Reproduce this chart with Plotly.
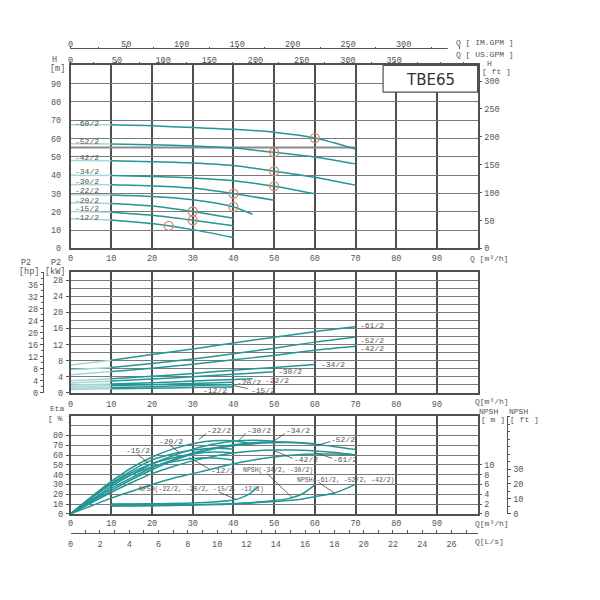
import plotly.graph_objects as go

# ---------------- data ----------------
Q_TICKS = [0, 10, 20, 30, 40, 50, 60, 70, 80, 90]

# Head curves  H [m] vs Q [m3/h]
H_NAMES = ["-60/2", "-52/2", "-42/2", "-34/2", "-30/2", "-22/2", "-20/2", "-15/2", "-12/2"]
H_Q = [
    [0, 10, 20, 30, 40, 50, 60, 70],
    [0, 10, 20, 30, 40, 50, 60, 70],
    [0, 10, 20, 30, 40, 50, 60, 70],
    [0, 10, 20, 30, 40, 50, 60],
    [0, 10, 20, 30, 40, 50],
    [0, 10, 20, 30, 40, 44.7],
    [0, 10, 20, 30, 40],
    [0, 10, 20, 30, 40],
    [0, 10, 20, 24.1, 30, 40],
]
H_M = [
    [67.6, 67.5, 67.0, 66.0, 65.1, 63.5, 60.3, 54.3],
    [57.2, 57.1, 56.7, 55.9, 54.8, 52.5, 50.0, 46.2],
    [48.0, 47.9, 47.4, 46.7, 45.3, 42.2, 38.9, 34.6],
    [40.0, 39.9, 39.3, 38.5, 37.0, 34.0, 29.9],
    [35.0, 34.8, 34.2, 33.0, 30.0, 26.3],
    [29.5, 29.2, 28.4, 26.6, 22.7, 18.7],
    [25.0, 24.6, 23.2, 20.2, 16.5],
    [20.2, 19.8, 18.1, 15.4, 12.4],
    [16.3, 15.6, 13.6, 12.4, 10.3, 6.0],
]
DUTY_Q = [60, 50, 50, 50, 40, 40, 30, 30, 24.1]
DUTY_H = [60.3, 52.5, 42.2, 34.0, 30.0, 22.7, 20.2, 15.4, 12.4]
REF_LINE_Q = [0, 70]
REF_LINE_H = [55.2, 55.2]

# Power curves  P2 [kW]
P_NAMES = ["-61/2", "-52/2", "-42/2", "-34/2", "-30/2", "-22/2", "-20/2", "-15/2", "-12/2"]
P_Q = [
    [0, 10, 20, 30, 40, 50, 60, 70],
    [0, 10, 20, 30, 40, 50, 60, 70],
    [0, 10, 20, 30, 40, 50, 60, 70],
    [0, 10, 20, 30, 40, 50, 60],
    [0, 10, 20, 30, 40, 50],
    [0, 10, 20, 30, 40, 44.7],
    [0, 10, 20, 30, 40],
    [0, 10, 20, 30, 40],
    [0, 10, 20, 30, 40],
]
P_KW = [
    [6.9, 8.1, 9.5, 10.9, 12.4, 13.8, 15.2, 16.4],
    [5.7, 6.3, 7.3, 8.4, 9.7, 11.1, 12.6, 13.9],
    [4.5, 5.3, 6.1, 7.1, 8.2, 9.3, 10.6, 11.6],
    [3.0, 3.5, 4.1, 4.8, 5.6, 6.3, 7.0],
    [2.4, 2.9, 3.4, 4.0, 4.6, 5.2],
    [1.9, 2.2, 2.5, 2.9, 3.3, 3.5],
    [1.5, 1.8, 2.0, 2.3, 2.6],
    [1.1, 1.3, 1.5, 1.8, 2.0],
    [0.8, 1.0, 1.1, 1.3, 1.4],
]

# Efficiency curves  Eta [%]
ETA_NAMES = ["-22/2", "-20/2", "-15/2", "-12/2", "-30/2", "-34/2", "-52/2", "-42/2", "-61/2"]
ETA_Q = [
    [0, 5, 10, 15, 20, 25, 30, 35, 40, 44.7],
    [0, 5, 10, 15, 20, 25, 30, 35, 40],
    [0, 5, 10, 15, 20, 25, 30, 35, 40],
    [0, 5, 10, 15, 20, 25, 30, 35, 40],
    [0, 5, 10, 15, 20, 25, 30, 35, 40, 45, 50],
    [0, 5, 10, 15, 20, 25, 30, 35, 40, 45, 50, 55, 60],
    [0, 5, 10, 15, 20, 25, 30, 35, 40, 45, 50, 55, 60, 65, 70],
    [0, 5, 10, 15, 20, 25, 30, 35, 40, 45, 50, 55, 60, 65, 70],
    [0, 5, 10, 15, 20, 25, 30, 35, 40, 45, 50, 55, 60, 65, 70],
]
ETA_PCT = [
    [0, 17, 33, 47, 58, 66, 71.5, 74.5, 74.5, 71],
    [0, 16, 31, 44, 55, 61, 65, 67, 66],
    [0, 16, 31, 42, 51, 57, 61, 63, 62],
    [0, 16, 30, 40, 48, 53, 56.5, 57, 55],
    [0, 14, 28, 40, 51, 59, 66, 71, 74, 75, 74],
    [0, 13, 26, 37, 47, 55, 62, 67, 70.5, 72.5, 73.5, 73, 71.5],
    [0, 12, 24, 35, 45, 54, 61, 66, 69.5, 71.5, 72.5, 72.5, 71, 68.5, 65.5],
    [0, 11, 22, 32, 41, 48, 54, 58.5, 62, 64, 65, 65, 64, 62.5, 60],
    [0, 8, 16, 23, 30, 36, 41, 46, 51, 55, 58, 60, 61, 61, 60],
]

# NPSH curves [m]
NPSH_NAMES = ["NPSH(-22/2, -20/2, -15/2, -12/2)", "NPSH(-34/2, -30/2)", "NPSH(-61/2, -52/2, -42/2)"]
NPSH_Q = [
    [10, 20, 30, 35, 40, 42, 44, 46],
    [10, 20, 30, 40, 50, 54, 57, 60],
    [10, 20, 30, 40, 50, 55, 60, 65, 70],
]
NPSH_M = [
    [2.0, 2.05, 2.2, 2.4, 2.8, 3.3, 4.1, 5.5],
    [1.65, 1.7, 1.85, 2.1, 2.7, 3.2, 4.1, 5.9],
    [1.6, 1.65, 1.8, 2.0, 2.5, 2.8, 3.5, 4.3, 6.0],
]

H_TICKS = [0, 10, 20, 30, 40, 50, 60, 70, 80, 90]
H_FT_TICKS = [0, 50, 100, 150, 200, 250, 300]
KW_TICKS = [0, 4, 8, 12, 16, 20, 24, 28]
HP_TICKS = [0, 4, 8, 12, 16, 20, 24, 28, 32, 36]
ETA_TICKS = [0, 10, 20, 30, 40, 50, 60, 70, 80]
NPSH_M_TICKS = [0, 2, 4, 6, 8, 10]
NPSH_FT_TICKS = [0, 10, 20, 30]
US_GPM_TICKS = [0, 50, 100, 150, 200, 250, 300, 350]
IM_GPM_TICKS = [0, 50, 100, 150, 200, 250, 300]
LS_TICKS = [0, 2, 4, 6, 8, 10, 12, 14, 16, 18, 20, 22, 24, 26]

M_TO_FT = 3.28084
KW_TO_HP = 1.34102
M3H_TO_USGPM = 4.40287
M3H_TO_IMGPM = 3.66615
M3H_TO_LS = 1 / 3.6
Q_MAX = 100

# ---------------- layout helpers ----------------
W = H = 600
def px(x):
    return x / W
def py(y):
    return 1 - y / H

X_DOM = [px(68), px(477)]
TOP_DOM = [py(251), py(66)]
MID_DOM = [py(396.7), py(275)]
BOT_DOM = [py(519), py(420)]

FONT = "Liberation Mono"
GRAY = "#555555"
TEAL = "#239696"
TEAL_PALE = "#a6d6d6"
TICKFONT = dict(family=FONT, size=8.5, color=GRAY)

fig = go.Figure()


def add_curve(q, v, xa, ya, fade):
    if fade:
        qa = [a for a in q if a <= 10]
        va = v[:len(qa)]
        fig.add_trace(go.Scatter(x=qa, y=va, xaxis=xa, yaxis=ya, mode="lines",
                                 line=dict(color=TEAL_PALE, width=1.5),
                                 showlegend=False, hoverinfo="skip"))
        qb = q[len(qa) - 1:]
        vb = v[len(qa) - 1:]
    else:
        qb, vb = q, v
    fig.add_trace(go.Scatter(x=qb, y=vb, xaxis=xa, yaxis=ya, mode="lines",
                             line=dict(color=TEAL, width=1.5, shape="spline", smoothing=0.8),
                             showlegend=False, hoverinfo="skip"))


for q, v in zip(H_Q, H_M):
    add_curve(q, v, "x", "y", True)
fig.add_trace(go.Scatter(x=DUTY_Q, y=DUTY_H, xaxis="x", yaxis="y", mode="markers",
                         marker=dict(symbol="circle-open", size=9, color="#d9836f",
                                     line=dict(width=1.3, color="#d9836f")),
                         showlegend=False, hoverinfo="skip"))

for q, v in zip(P_Q, P_KW):
    add_curve(q, v, "x2", "y3", True)

for q, v in zip(ETA_Q, ETA_PCT):
    add_curve(q, v, "x3", "y5", False)
for q, v in zip(NPSH_Q, NPSH_M):
    add_curve(q, v, "x3", "y6", False)

# dummy traces to activate secondary axes
for xa, ya in [("x", "y2"), ("x2", "y4"), ("x3", "y7"), ("x4", "y"), ("x5", "y"), ("x6", "y5")]:
    fig.add_trace(go.Scatter(x=[None], y=[None], xaxis=xa, yaxis=ya, showlegend=False,
                             hoverinfo="skip"))

grid_x = dict(range=[0, Q_MAX], tickvals=Q_TICKS, ticktext=[str(t) for t in Q_TICKS],
              domain=X_DOM, showgrid=True, gridcolor="#505050", gridwidth=1.5,
              showline=True, mirror=True, linecolor="#505050", linewidth=1.5,
              ticks="", tickfont=TICKFONT, zeroline=False, fixedrange=True)

fig.update_layout(
    width=W, height=H, margin=dict(l=0, r=0, t=0, b=0),
    paper_bgcolor="white", plot_bgcolor="rgba(0,0,0,0)", showlegend=False,
    xaxis=dict(grid_x, anchor="y", ticklabelstandoff=1),
    xaxis2=dict(grid_x, anchor="y3", ticklabelstandoff=2),
    xaxis3=dict(grid_x, anchor="y5"),
    yaxis=dict(domain=TOP_DOM, anchor="x", range=[0, 100], tickvals=H_TICKS,
               showgrid=True, gridcolor="#7a7a7a", gridwidth=1, zeroline=False,
               showline=True, mirror=True, linecolor="#505050", linewidth=1.5,
               ticks="", ticklabelstandoff=6, tickfont=TICKFONT),
    yaxis2=dict(overlaying="y", side="right", anchor="x",
                range=[0, 100 * M_TO_FT], tickvals=H_FT_TICKS, showgrid=False,
                zeroline=False, ticks="outside", ticklen=3, tickcolor=GRAY,
                tickfont=TICKFONT, ticklabelstandoff=1),
    yaxis3=dict(domain=MID_DOM, anchor="x2", range=[0, 30], tickvals=KW_TICKS,
                showgrid=True, gridcolor="#7a7a7a", gridwidth=1, zeroline=False,
                minor=dict(dtick=2, tick0=0, showgrid=True, gridcolor="#7a7a7a", gridwidth=1),
                showline=True, mirror=True, linecolor="#505050", linewidth=1.5,
                ticks="outside", ticklen=3, tickcolor=GRAY, ticklabelstandoff=1,
                tickfont=TICKFONT),
    yaxis4=dict(overlaying="y3", side="left", anchor="free", position=px(40),
                range=[0, 30 * KW_TO_HP], tickvals=HP_TICKS, showgrid=False,
                zeroline=False, showline=True, linecolor=GRAY, linewidth=1,
                ticks="outside", ticklen=3, tickcolor=GRAY,
                minor=dict(dtick=2, tick0=0, ticks="outside", ticklen=2, tickcolor=GRAY),
                tickfont=TICKFONT, ticklabelstandoff=0),
    yaxis5=dict(domain=BOT_DOM, anchor="x3", range=[0, 100], tickvals=ETA_TICKS,
                showgrid=True, gridcolor="#7a7a7a", gridwidth=1, zeroline=False,
                minor=dict(dtick=10, tick0=0, showgrid=True, gridcolor="#7a7a7a", gridwidth=1),
                showline=True, mirror=True, linecolor="#505050", linewidth=1.5,
                ticks="outside", ticklen=3, tickcolor=GRAY, ticklabelstandoff=1,
                tickfont=TICKFONT),
    yaxis6=dict(overlaying="y5", side="right", anchor="x3", range=[0, 20],
                tickvals=NPSH_M_TICKS, showgrid=False, zeroline=False,
                ticks="outside", ticklen=3, tickcolor=GRAY, tickfont=TICKFONT,
                ticklabelstandoff=1),
    yaxis7=dict(overlaying="y5", side="right", anchor="free", position=px(507),
                range=[0, 20 * M_TO_FT], tickvals=NPSH_FT_TICKS, showgrid=False,
                zeroline=False, showline=True, linecolor=GRAY, linewidth=1,
                ticks="outside", ticklen=3, tickcolor=GRAY,
                minor=dict(dtick=5, tick0=0, ticks="outside", ticklen=2, tickcolor=GRAY),
                tickfont=TICKFONT, ticklabelstandoff=0),
    xaxis4=dict(overlaying="x", side="top", anchor="y",
                range=[0, Q_MAX * M3H_TO_USGPM], tickvals=US_GPM_TICKS,
                minor=dict(dtick=25, tick0=0, ticks="outside", ticklen=2, tickcolor=GRAY),
                showgrid=False, zeroline=False, showline=False,
                ticks="outside", ticklen=3, tickcolor=GRAY, tickfont=TICKFONT,
                ticklabelstandoff=-5),
    xaxis5=dict(overlaying="x", side="top", anchor="free", position=py(49),
                range=[0, Q_MAX * M3H_TO_IMGPM], tickvals=IM_GPM_TICKS,
                minor=dict(dtick=25, tick0=0, ticks="outside", ticklen=2, tickcolor=GRAY),
                showgrid=False, zeroline=False, showline=False,
                ticks="outside", ticklen=3, tickcolor=GRAY, tickfont=TICKFONT,
                ticklabelstandoff=-5),
    xaxis6=dict(overlaying="x3", side="bottom", anchor="free", position=py(538),
                range=[0, Q_MAX * M3H_TO_LS], tickvals=LS_TICKS,
                minor=dict(dtick=1, tick0=0, ticks="inside", ticklen=3, tickcolor=GRAY),
                showgrid=False, zeroline=False, showline=True, linecolor=GRAY, linewidth=1,
                ticks="inside", ticklen=3, tickcolor=GRAY, tickfont=TICKFONT,
                ticklabelstandoff=3),
)

shapes = []
# IM GPM axis line (shorter than the plot)
shapes.append(dict(type="line", xref="paper", yref="paper", x0=px(68), x1=px(447),
                   y0=py(49), y1=py(49), line=dict(color=GRAY, width=1)))
# gray reference line in head panel
shapes.append(dict(type="line", xref="x", yref="y", x0=REF_LINE_Q[0], x1=REF_LINE_Q[1],
                   y0=REF_LINE_H[0], y1=REF_LINE_H[1], layer="between",
                   line=dict(color="#8a8a8a", width=2)))
# model box
shapes.append(dict(type="rect", xref="paper", yref="paper", x0=px(382), x1=px(477),
                   y0=py(93), y1=py(66), fillcolor="white", layer="above",
                   line=dict(color="#505050", width=1.2)))

annotations = []


def txt(x, y, s, size=8.5, anchor="left", color=GRAY, family=FONT):
    annotations.append(dict(x=px(x), y=py(y), xref="paper", yref="paper", text=s,
                            showarrow=False, xanchor=anchor, yanchor="middle",
                            font=dict(family=family, size=size, color=color)))


def leader(x0, y0, x1, y1):
    shapes.append(dict(type="line", xref="paper", yref="paper", x0=px(x0), y0=py(y0),
                       x1=px(x1), y1=py(y1), layer="above",
                       line=dict(color="#444444", width=0.8)))


txt(430, 80.5, "TBE65", size=15, anchor="center", color="#333333", family="DejaVu Sans")

# axis titles
txt(52, 61, "H", anchor="center")
txt(55, 70, "[m]", anchor="center")
txt(489, 64.5, "H", anchor="center", size=8)
txt(496, 72, "[ ft ]", anchor="center", size=8)
txt(453, 43, "Q [ IM.GPM ]", size=8)
txt(453, 55, "Q [ US.GPM ]", size=8)
txt(467, 261, "Q [m³/h]", size=8)
txt(23, 266, "P2", anchor="center")
txt(53, 266, "P2", anchor="center")
txt(26, 275, "[hp]", anchor="center")
txt(52, 275, "[kW]", anchor="center")
txt(472, 406, "Q[m³/h]", size=8)
txt(55, 412.5, "Eta", anchor="center", size=8)
txt(57, 423, "[ % ]", anchor="center", size=8)
txt(488, 415.5, "NPSH", anchor="center", size=8)
txt(518, 415.5, "NPSH", anchor="center", size=8)
txt(492, 423.5, "[ m ]", anchor="center", size=8)
txt(524, 423.5, "[ ft ]", anchor="center", size=8)
txt(472, 529, "Q[m³/h]", size=8)
txt(472, 547, "Q[L/s]", size=8)

# head curve labels
H_LABEL_Y = [125, 143.3, 159.3, 173.3, 183.3, 192.7, 202.3, 210.3, 219.8]
for name, yy in zip(H_NAMES, H_LABEL_Y):
    txt(70, yy, name, size=8)

# power labels
P_LABEL_POS = [(357, 329), (357, 344), (357, 352.5), (318, 368.5), (274, 375.5),
               (261, 384.5), (233, 386.5), (247, 394), (199, 394)]
for name, (xx, yy) in zip(P_NAMES, P_LABEL_POS):
    txt(xx, yy, name, size=8)
leader(232, 389.5, 246, 392.5)

# efficiency labels
ETA_LABEL_POS = [(203, 435), (155, 445.5), (122, 455.5), (207, 475), (243, 435),
                 (282, 435), (328, 444.3), (290, 464.3), (330, 464.3)]
ETA_LEADERS = [(204, 438, 197, 444), (167, 449, 177, 457), (135, 458.5, 146, 468),
               (207, 473.5, 187, 462), (244, 438, 237, 445), (283, 438, 270, 447),
               (329, 446, 315, 450), (291, 463, 272, 455), (331, 463, 313, 457)]
for name, (xx, yy), ld in zip(ETA_NAMES, ETA_LABEL_POS, ETA_LEADERS):
    txt(xx, yy, name, size=8)
    leader(*ld)

NPSH_LABEL_POS = [(135, 494), (239, 475), (293, 485)]
NPSH_LEADERS = [(217, 497, 233, 504), (265, 478, 291, 503), (317, 487, 333, 498)]
for name, (xx, yy), ld in zip(NPSH_NAMES, NPSH_LABEL_POS, NPSH_LEADERS):
    txt(xx, yy, name, size=6.5)
    leader(*ld)

fig.update_layout(shapes=shapes, annotations=annotations)
fig.write_html("out.html")
